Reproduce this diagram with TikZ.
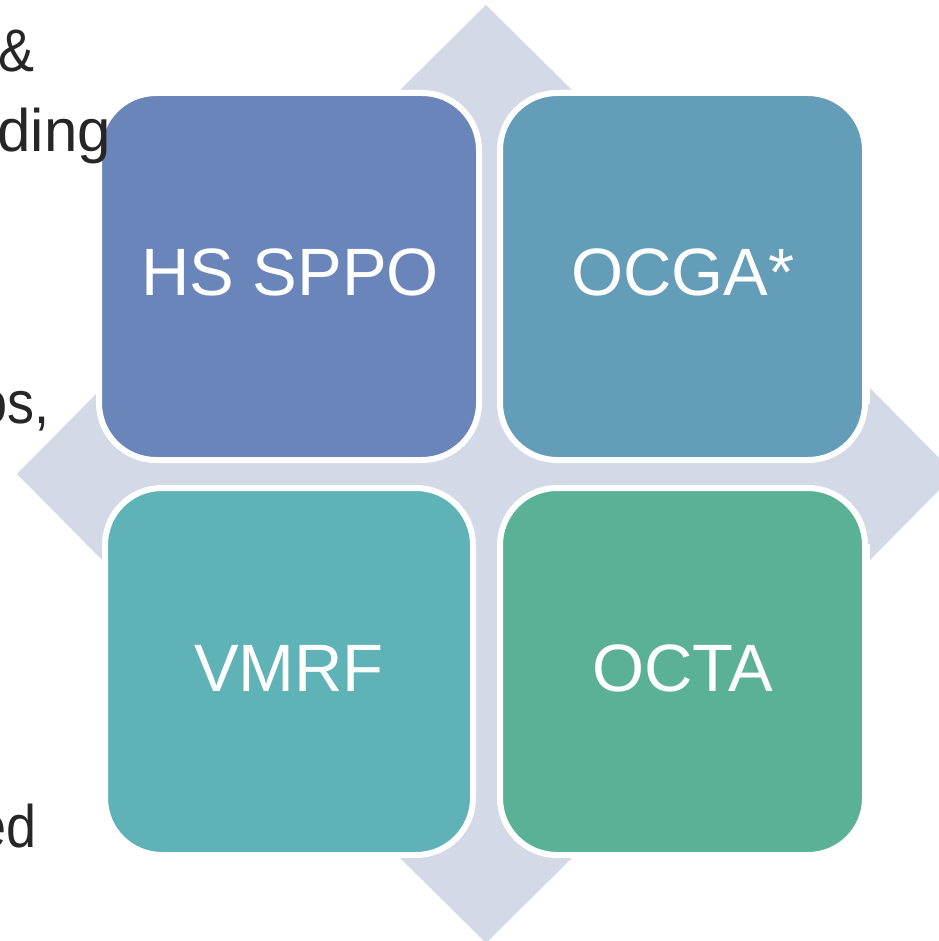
\documentclass[tikz,border=0pt]{standalone}
\usepackage{fontspec}
\setmainfont{Liberation Sans}
\newfontfamily\sidefont[FakeStretch=0.9]{Liberation Sans}
\definecolor{crossc}{HTML}{D4D9E7}
\definecolor{tlc}{HTML}{6985BA}
\definecolor{trc}{HTML}{639DB8}
\definecolor{blc}{HTML}{5FB2B5}
\definecolor{brc}{HTML}{5AB196}
\definecolor{txtc}{HTML}{262626}
\tikzset{
  cell/.style={draw=white, line width=6pt, rounded corners=57pt},
  celltext/.style={text=white, font=\fontsize{67}{67}\selectfont, inner sep=0pt},
  sidetext/.style={text=txtc, font=\sidefont\fontsize{60}{60}\selectfont, inner sep=0pt, anchor=base east},
  sidewide/.style={sidetext, font=\rmfamily\fontsize{60}{60}\selectfont}
}
\begin{document}
\begin{tikzpicture}[x=1pt,y=-1pt]
\useasboundingbox (0,0) rectangle (938,941);
\def\cx{486}\def\cy{474}\def\L{469}\def\H{86}\def\D{85}\def\W{70}
\fill[crossc]
 (\cx,\cy-\L) -- (\cx+\H,\cy-\L+\D) -- (\cx+\W,\cy-\L+\D) -- (\cx+\W,\cy-\W)
 -- (\cx+\L-\D,\cy-\W) -- (\cx+\L-\D,\cy-\H) -- (\cx+\L,\cy) -- (\cx+\L-\D,\cy+\H)
 -- (\cx+\L-\D,\cy+\W) -- (\cx+\W,\cy+\W) -- (\cx+\W,\cy+\L-\D) -- (\cx+\H,\cy+\L-\D)
 -- (\cx,\cy+\L) -- (\cx-\H,\cy+\L-\D) -- (\cx-\W,\cy+\L-\D) -- (\cx-\W,\cy+\W)
 -- (\cx-\L+\D,\cy+\W) -- (\cx-\L+\D,\cy+\H) -- (\cx-\L,\cy) -- (\cx-\L+\D,\cy-\H)
 -- (\cx-\L+\D,\cy-\W) -- (\cx-\W,\cy-\W) -- (\cx-\W,\cy-\L+\D) -- (\cx-\H,\cy-\L+\D) -- cycle;
% cells
\fill[tlc, cell] (99,93) rectangle (479,460);
\node[celltext] (hs) at (290,272) {HS SPPO};
\fill[trc, cell] (500,93) rectangle (865,460);
\node[celltext] (ocga) at (683,272) {OCGA*};
\fill[blc, cell] (105,488) rectangle (473,855);
\node[celltext] (vmrf) at (289,668) {VMRF};
\fill[brc, cell] (500,488) rectangle (865,855);
\node[celltext] (octa) at (683,668) {OCTA};
% side texts (clipped at left edge)
\node[sidetext] (t1) at (35,72) {\&};
\node[sidewide] (t2) at (111,152) {ding};
\node[sidetext] (t3) at (50,423) {os,};
\node[sidetext] (t4) at (37,847) {ed};
\end{tikzpicture}
\end{document}
